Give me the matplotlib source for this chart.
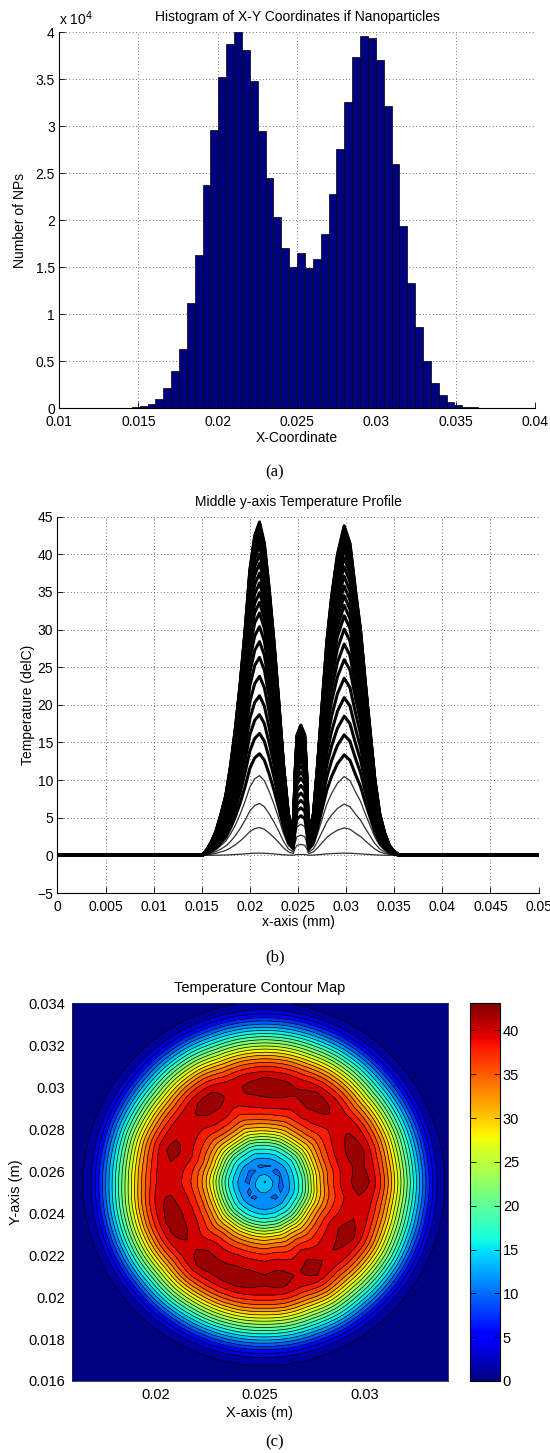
import matplotlib
matplotlib.use("Agg")
import matplotlib.pyplot as plt
import numpy as np
from matplotlib.colors import Normalize
from matplotlib.cm import ScalarMappable
from matplotlib.ticker import FuncFormatter

plt.rcParams['font.family'] = ['Liberation Sans', 'DejaVu Sans']

# ---- (a) histogram of particle x-coordinates: 50 bins ----
bin_lo, bin_hi = 0.0131, 0.0379
np_counts = [50, 60, 80, 100, 250, 500, 1000, 2200, 4000, 6300,
             11200, 16300, 23800, 29600, 35200, 38800, 40000, 38100, 34800, 29500,
             24500, 20300, 17000, 15000, 16500, 14900, 15900, 18500, 22800, 27600,
             32600, 37400, 39600, 39400, 37100, 32200, 26000, 19400, 13300, 8700,
             5000, 2700, 1400, 670, 350, 180, 100, 80, 60, 50]

# ---- (b) temperature along the middle y line, final time step ----
prof_x = [0.0, 0.0150, 0.0155, 0.0160, 0.0165, 0.0170, 0.0175, 0.0180, 0.0185, 0.0190,
          0.0195, 0.0200, 0.0205, 0.0210, 0.0215, 0.0220, 0.0225, 0.0230, 0.0235,
          0.0240, 0.0245, 0.0247, 0.0249, 0.0253, 0.0257, 0.0259, 0.0261, 0.0266,
          0.0270, 0.0275, 0.0280, 0.0285, 0.0291, 0.0298, 0.0304, 0.0310, 0.0315,
          0.0320, 0.0325, 0.0330, 0.0335, 0.0340, 0.0345, 0.0350, 0.0356, 0.0500]
prof_T = [0.0, 0.0, 0.7, 1.8, 3.3, 5.5, 8.0, 12.0, 17.0, 23.0,
          30.0, 38.0, 42.5, 44.3, 41.5, 35.5, 28.5, 20.5, 12.0,
          5.5, 3.0, 11.0, 16.0, 17.3, 16.0, 11.0, 2.7, 5.5,
          11.5, 20.0, 28.5, 34.5, 40.0, 43.8, 41.5, 35.0, 30.0,
          23.0, 16.5, 10.0, 5.5, 3.0, 1.3, 0.5, 0.0, 0.0]
# left-peak temperature of each saved time step
step_peaks = [0.3, 3.7, 6.9, 10.6, 13.5, 16.2, 18.7, 21.2, 23.8, 26.3, 28.4, 30.4,
              32.2, 33.6, 34.9, 36.2, 37.5, 38.8, 40.0, 41.1, 42.0, 42.8, 43.4,
              43.8, 44.1, 44.3]

# ---- (c) contour map: radial temperature profile about the centre ----
centre = (0.0252, 0.0254)
ring_r = [0.0, 0.0003, 0.0008, 0.0011, 0.0014, 0.0018, 0.0022, 0.0026, 0.0031, 0.0036,
          0.0041, 0.0046, 0.0051, 0.0056, 0.0060, 0.0064, 0.0068, 0.0072, 0.0076,
          0.0079, 0.0082, 0.0085, 0.0088, 0.0200]
ring_T = [15.5, 13.5, 10.0, 11.5, 14.0, 18.0, 24.0, 30.0, 35.5, 39.0,
          41.0, 42.0, 41.0, 37.0, 32.5, 27.0, 21.5, 16.0, 10.5,
          6.5, 3.0, 0.4, 0.0, 0.0]
# relative height of the hot ring going round (degrees)
ring_ang = list(range(0, 360, 10))
ring_scale = [1.0, 0.99, 1.0, 0.985, 0.96, 0.99, 1.0, 0.985, 1.0, 1.0,
              0.99, 0.965, 1.0, 0.995, 0.965, 0.975, 0.995, 0.97, 0.965, 0.99,
              1.0, 0.995, 0.97, 1.0, 0.995, 1.0, 1.0, 0.99, 1.0, 0.975,
              1.0, 0.97, 0.985, 1.0, 0.975, 0.97]
t_max = 43.1

W, H = 550, 1453
fig = plt.figure(figsize=(W / 100, H / 100), dpi=100)


def px_axes(left, top, right, bottom):
    return fig.add_axes([left / W, 1 - bottom / H, (right - left) / W, (bottom - top) / H])


def matlab_style(ax, size=10):
    ax.set_axisbelow(True)
    ax.grid(True, color='#404040', linewidth=0.6, linestyle=(0, (1, 3)))
    for s in ('top', 'right'):
        ax.spines[s].set_visible(False)
    for s in ('left', 'bottom'):
        ax.spines[s].set_linewidth(0.8)
    ax.tick_params(direction='in', length=4, width=0.6, labelsize=size)
    ax.tick_params(axis='x', pad=5)
    ax.tick_params(axis='y', pad=3)


fmt_g = FuncFormatter(lambda v, p: f"{round(v, 6):g}")

# (a)
ax1 = px_axes(59, 32.3, 535, 408.3)
edges = np.linspace(bin_lo, bin_hi, len(np_counts) + 1)
ax1.bar(edges[:-1], np_counts, width=np.diff(edges), align='edge',
        color='#000080', edgecolor='black', linewidth=0.5)
ax1.set_xlim(0.01, 0.04)
ax1.set_ylim(0, 40000)
ax1.set_xticks(np.arange(0.01, 0.0401, 0.005))
ax1.set_yticks(np.arange(0, 40001, 5000))
ax1.xaxis.set_major_formatter(fmt_g)
ax1.yaxis.set_major_formatter(FuncFormatter(lambda v, p: f"{v / 1e4:g}"))
matlab_style(ax1)
ax1.set_title('Histogram of X-Y Coordinates if Nanoparticles', fontsize=10, pad=8)
ax1.set_xlabel('X-Coordinate', fontsize=10, labelpad=1)
ax1.set_ylabel('Number of NPs', fontsize=10, labelpad=6)
ax1.text(0.0, 1.012, r'x 10$^{4}$', transform=ax1.transAxes, ha='left', va='bottom', fontsize=10)

# (b)
ax2 = px_axes(57.5, 516.7, 538.5, 893)
px = np.array(prof_x)
pT = np.array(prof_T)
for i, peak in enumerate(step_peaks):
    if i < 4:
        ax2.plot(px, pT * peak / pT.max(), color='#303030', linewidth=0.9)
    else:
        ax2.plot(px, pT * peak / pT.max(), color='black', linewidth=2.2)
ax2.set_xlim(0, 0.05)
ax2.set_ylim(-5, 45)
ax2.set_xticks(np.arange(0, 0.0501, 0.005))
ax2.set_yticks(np.arange(-5, 46, 5))
ax2.xaxis.set_major_formatter(fmt_g)
matlab_style(ax2)
ax2.set_title('Middle y-axis Temperature Profile', fontsize=10, pad=8)
ax2.set_xlabel('x-axis (mm)', fontsize=10, labelpad=1)
ax2.set_ylabel('Temperature (delC)', fontsize=10, labelpad=2)

# (c)
ax3 = px_axes(71.9, 1003.3, 447.7, 1381)
g = np.arange(0.0150, 0.0351, 0.00025)
X, Y = np.meshgrid(g, g)
R = np.hypot(X - centre[0], Y - centre[1])
A = np.degrees(np.arctan2(Y - centre[1], X - centre[0])) % 360
T = np.interp(R, ring_r, ring_T) * np.interp(A, ring_ang, ring_scale, period=360)
norm = Normalize(0, t_max)
levels = np.linspace(0.2, t_max, 22)
ax3.set_facecolor(plt.cm.jet(0.0))
ax3.contourf(X, Y, T, levels=levels, cmap='jet', norm=norm)
ax3.contour(X, Y, T, levels=levels, colors='black', linewidths=0.5)
ax3.set_xlim(0.016, 0.034)
ax3.set_ylim(0.016, 0.034)
ax3.set_xticks([0.02, 0.025, 0.03])
ax3.set_yticks(np.arange(0.016, 0.0341, 0.002))
ax3.xaxis.set_major_formatter(fmt_g)
ax3.yaxis.set_major_formatter(fmt_g)
ax3.tick_params(length=0, labelsize=10.5, pad=5)
for s in ax3.spines.values():
    s.set_color('#202060')
    s.set_linewidth(0.6)
ax3.set_title('Temperature Contour Map', fontsize=10.5, pad=8)
ax3.set_xlabel('X-axis (m)', fontsize=10.5, labelpad=3)
ax3.set_ylabel('Y-axis (m)', fontsize=10.5, labelpad=4)

cax = px_axes(470, 1003.3, 500, 1381)
cb = fig.colorbar(ScalarMappable(norm=norm, cmap='jet'), cax=cax)
cb.set_ticks(np.arange(0, 41, 5))
cb.outline.set_linewidth(0.8)
cax.yaxis.set_ticks_position('both')
cax.tick_params(direction='in', length=4, width=0.6, labelsize=10.5, pad=2, labelleft=False, labelright=True)

for y, lab in ((472, '(a)'), (957, '(b)'), (1442, '(c)')):
    fig.text(0.5, 1 - y / H, lab, family='Liberation Serif', fontsize=12, ha='center', va='center')

fig.savefig('out.png', dpi=100)
